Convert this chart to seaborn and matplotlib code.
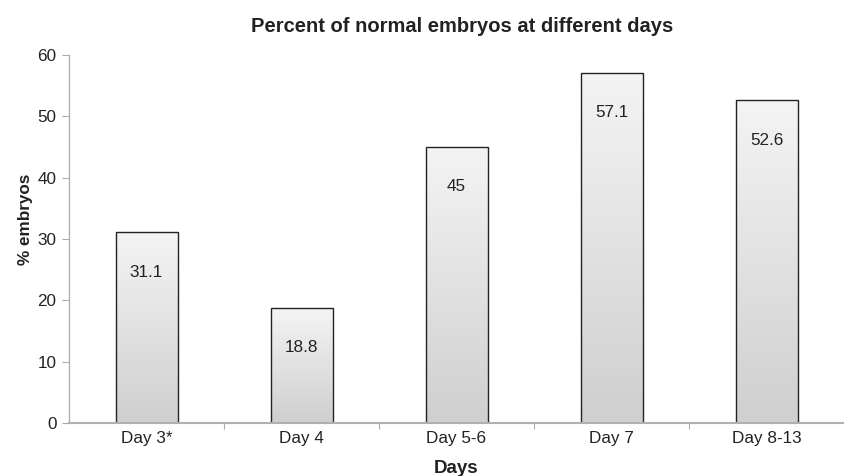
import numpy as np
import pandas as pd
import seaborn as sns
import matplotlib
matplotlib.use("Agg")
import matplotlib.pyplot as plt
from matplotlib.colors import LinearSegmentedColormap

categories = ["Day 3*", "Day 4", "Day 5-6", "Day 7", "Day 8-13"]
values = [31.1, 18.8, 45, 57.1, 52.6]
value_labels = ["31.1", "18.8", "45", "57.1", "52.6"]

sns.set_theme(style="white")
plt.rcParams['font.family'] = ['Liberation Sans', 'DejaVu Sans']

df = pd.DataFrame({"Days": categories, "pct": values})

fig = plt.figure(figsize=(8.44, 4.76), dpi=100)
ax = fig.add_axes([69/844, 1-423/476, 1-69/844, (423-55)/476])

sns.barplot(data=df, x="Days", y="pct", ax=ax, width=0.4, color="#e6e6e6",
            edgecolor="#222222", linewidth=1.0)

cmap = LinearSegmentedColormap.from_list("g", ["#cfcfcf", "#f4f4f4"])
grad = np.linspace(0, 1, 256).reshape(-1, 1)
for p in list(ax.patches):
    x0, y0 = p.get_x(), p.get_y()
    w, h = p.get_width(), p.get_height()
    sh = plt.Rectangle((x0 + 0.012, y0), w, h - 0.15, facecolor="#000000", alpha=0.12,
                       edgecolor="none", zorder=p.get_zorder() - 0.5)
    ax.add_patch(sh)
    im = ax.imshow(grad, extent=[x0, x0 + w, y0, y0 + h], origin="lower",
                   cmap=cmap, aspect="auto", zorder=p.get_zorder() + 0.1)
    im.set_clip_path(p)
    p.set_facecolor("none")
    p.set_zorder(p.get_zorder() + 0.2)

for i, (v, lab) in enumerate(zip(values, value_labels)):
    ax.annotate(lab, xy=(i, v), xytext=(0, -40), textcoords="offset pixels",
                ha="center", va="center", fontsize=12.3, color="#222222", zorder=10)

ax.set_xlim(-0.5, 4.5)
ax.set_ylim(0, 60)
ax.set_yticks([0, 10, 20, 30, 40, 50, 60])
ax.set_xticks(range(len(categories)))
ax.set_xticklabels(categories, fontsize=12.3, color="#222222")
ax.set_xticks([0.5, 1.5, 2.5, 3.5], minor=True)
ax.tick_params(axis="x", which="major", length=0, pad=6)
ax.tick_params(axis="x", which="minor", length=4, width=0.8, color="#aaaaaa", direction="out", bottom=True)
ax.tick_params(axis="y", length=5, width=0.8, color="#aaaaaa", direction="out", left=True,
               labelsize=12.3, labelcolor="#222222", pad=4)
for s in ["top", "right"]:
    ax.spines[s].set_visible(False)
for s in ["left", "bottom"]:
    ax.spines[s].set_color("#b0b0b0")
    ax.spines[s].set_linewidth(1.0)
ax.spines["bottom"].set_linewidth(1.5)

ax.set_xlabel("Days", fontsize=13.5, fontweight="bold", color="#222222", labelpad=10)
ax.set_ylabel("% embryos", fontsize=12.3, fontweight="bold", color="#222222", labelpad=3, y=0.554)
fig.text(0.548, 1-26/476, "Percent of normal embryos at different days", ha="center", va="center",
         fontsize=14.5, fontweight="bold", color="#222222")

fig.savefig("out.png", dpi=100)
